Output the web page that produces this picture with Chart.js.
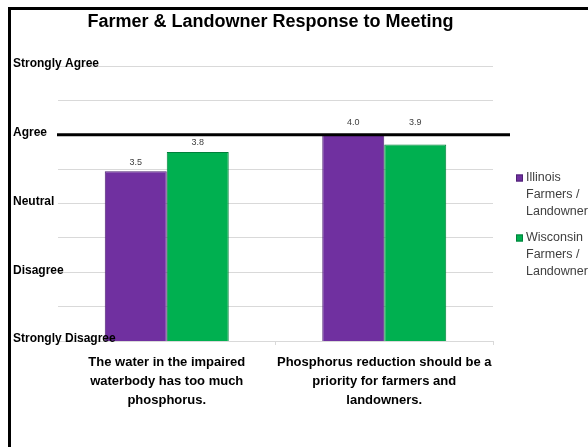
<!DOCTYPE html>
<html>
<head>
<meta charset="utf-8">
<script src="https://cdn.jsdelivr.net/npm/chart.js@4/dist/chart.umd.min.js"></script>
<style>
  html, body { margin: 0; padding: 0; background: #fff; }
  #frame { position: absolute; left: 8px; top: 7px; width: 580px; height: 440px; border-left: 3px solid #000; border-top: 3px solid #000; box-sizing: border-box; }
  #wrap { position: relative; width: 577px; height: 437px; }
</style>
</head>
<body>
<div id="frame"><div id="wrap"><canvas id="chart"></canvas></div></div>
<script>
const chartTitle = 'Farmer & Landowner Response to Meeting';
const categories = [
  ['The water in the impaired', 'waterbody has too much', 'phosphorus.'],
  ['Phosphorus reduction should be a', 'priority for farmers and', 'landowners.']
];
const seriesNames = [
  ['Illinois', 'Farmers /', 'Landowners'],
  ['Wisconsin', 'Farmers /', 'Landowners']
];
const illinoisValues = [3.47, 4.0];
const wisconsinValues = [3.75, 3.86];
// 1 = Strongly Disagree ... 5 = Strongly Agree
const yTickLabels = ['Strongly Disagree', 'Disagree', 'Neutral', 'Agree', 'Strongly Agree'];
const agreeLevel = 4;

const FONT = '"Liberation Sans", Arial, sans-serif';
Chart.defaults.font.family = FONT;

// title, legend, y labels, value labels and the heavy "Agree" line
const decorations = {
  id: 'decorations',
  afterDatasetsDraw(chart) {
    const { ctx, chartArea, scales } = chart;
    const agreeY = scales.y.getPixelForValue(agreeLevel);
    ctx.save();
    // y labels run over the plot's left edge, so draw them here (the scale would clip them)
    ctx.font = 'bold 12px ' + FONT;
    ctx.fillStyle = '#000';
    ctx.textAlign = 'left';
    ctx.textBaseline = 'middle';
    yTickLabels.forEach((txt, i) => {
      ctx.fillText(txt, 2, scales.y.getPixelForValue(i + 1) - 2);
    });

    ctx.strokeStyle = '#000';
    ctx.lineWidth = 3;
    ctx.beginPath();
    ctx.moveTo(chartArea.left - 1, agreeY);
    ctx.lineTo(chartArea.right + 17, agreeY);
    ctx.stroke();

    ctx.font = '9px ' + FONT;
    ctx.fillStyle = '#404040';
    ctx.textAlign = 'center';
    chart.data.datasets.forEach((ds, i) => {
      chart.getDatasetMeta(i).data.forEach((bar, j) => {
        let y = bar.y - 9;
        if (y < agreeY + 4) y = agreeY - 12; // keep clear of the heavy line
        ctx.fillText(ds.data[j].toFixed(1), bar.x, y);
      });
    });
    ctx.restore();
  },
  afterDraw(chart) {
    const { ctx, chartArea } = chart;
    ctx.save();
    ctx.fillStyle = '#000';
    ctx.font = 'bold 18px ' + FONT;
    ctx.textAlign = 'center';
    ctx.textBaseline = 'alphabetic';
    ctx.fillText(chartTitle, 259.5, 17);

    ctx.font = '12.5px ' + FONT;
    ctx.textAlign = 'left';
    ctx.textBaseline = 'middle';
    const lx = chartArea.right + 23;
    chart.data.datasets.forEach((ds, i) => {
      const top = chartArea.top + 112 + i * 60;
      ctx.fillStyle = ds.backgroundColor;
      ctx.fillRect(lx, top - 3.5, 7, 7);
      ctx.strokeStyle = ds.borderColor;
      ctx.lineWidth = 1;
      ctx.strokeRect(lx + 0.5, top - 3, 6, 6);
      ctx.fillStyle = '#404040';
      seriesNames[i].forEach((line, k) => ctx.fillText(line, lx + 10, top + k * 17));
    });
    ctx.restore();
  }
};

new Chart(document.getElementById('chart'), {
  type: 'bar',
  data: {
    labels: categories,
    datasets: [
      {
        label: seriesNames[0].join(' '),
        data: illinoisValues,
        backgroundColor: '#7030a0',
        borderColor: '#4f2275',
        borderWidth: 1
      },
      {
        label: seriesNames[1].join(' '),
        data: wisconsinValues,
        backgroundColor: '#00b050',
        borderColor: '#00803a',
        borderWidth: 1
      }
    ]
  },
  options: {
    responsive: true,
    maintainAspectRatio: false,
    animation: false,
    devicePixelRatio: 1,
    layout: { padding: { top: 56, right: 95, left: 2, bottom: 0 } },
    datasets: { bar: { categoryPercentage: 0.57, barPercentage: 1 } },
    plugins: {
      legend: { display: false },
      title: { display: false },
      tooltip: { enabled: false }
    },
    scales: {
      x: {
        afterFit(scale) { scale.height = 106; },
        border: { color: '#d9d9d9' },
        grid: { drawOnChartArea: false, color: '#d9d9d9', tickLength: 4 },
        ticks: {
          padding: 8,
          color: '#000',
          maxRotation: 0,
          autoSkip: false,
          font: { size: 13, weight: 'bold', lineHeight: '19px' }
        }
      },
      y: {
        min: 1,
        max: 5,
        afterFit(scale) { scale.width = 45; },
        border: { display: false },
        grid: { color: '#d9d9d9', drawTicks: false },
        ticks: {
          stepSize: 0.5,
          callback: () => ''
        }
      }
    }
  },
  plugins: [decorations]
});
</script>
</body>
</html>
